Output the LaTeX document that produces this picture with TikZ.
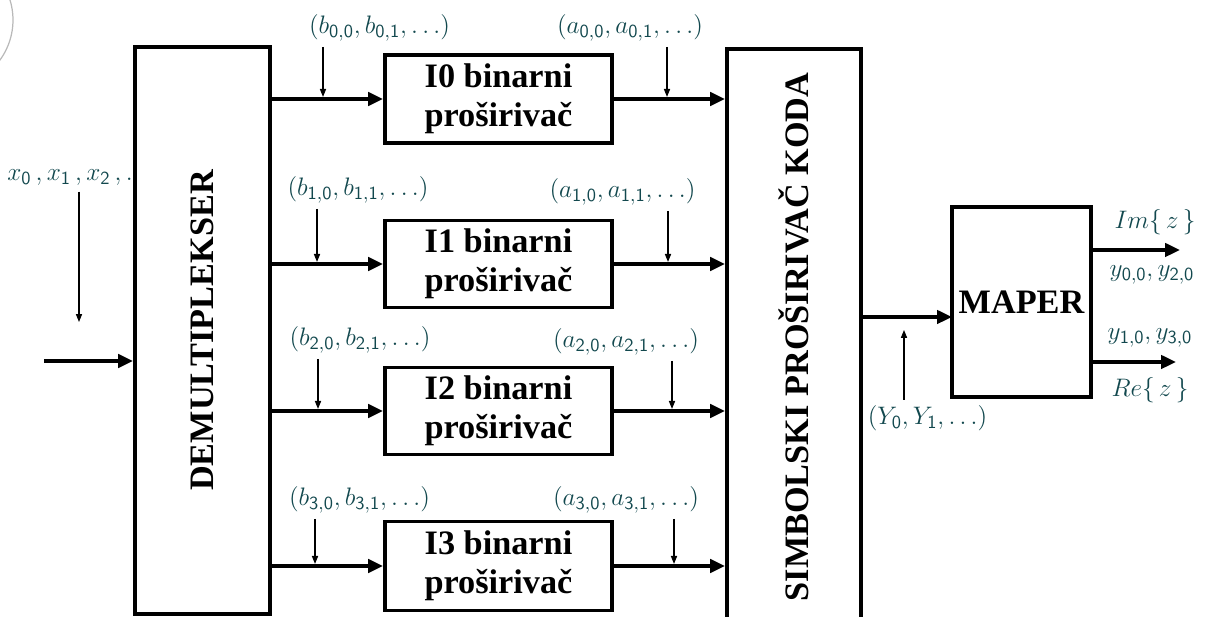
\documentclass[tikz,border=0pt]{standalone}
\usepackage{fontspec}
\setmainfont{Liberation Serif}
\usepackage{tikz}
\usetikzlibrary{arrows.meta,positioning,calc}
\definecolor{labteal}{RGB}{18,72,78}
\newcommand{\sx}[1]{\mathsf{#1}}

\begin{document}
\begin{tikzpicture}[
    x=0.02cm, y=-0.02cm,
    blk/.style={draw, line width=2.2pt, inner sep=0pt, align=center,
                font=\bfseries\fontsize{19.5}{22}\selectfont},
    lbl/.style={text=labteal, inner sep=1pt, font=\fontsize{15}{17}\selectfont},
    bus/.style={line width=2.2pt, -{Triangle[length=8.5pt,width=7.5pt]}},
    tap/.style={line width=0.6pt, shorten <=2pt, shorten >=1.2pt,
                -{Triangle[length=4.5pt,width=3.5pt]}}
]
\useasboundingbox (0,0) rectangle (1207,617);

% corner arc
\draw[gray!55, line width=0.7pt] (-55,20) circle[radius=1.36cm];

% Blocks
\node[blk, minimum width=2.7cm, minimum height=11.34cm] (demux) at (202.5,330.5) {\rotatebox{90}{DEMULTIPLEKSER}};
\node[blk, minimum width=4.54cm, minimum height=1.76cm] (i0) at (498.5,99) {I0 binarni\\proširivač};
\node[blk, minimum width=4.54cm, minimum height=1.74cm] (i1) at (498.5,264) {I1 binarni\\proširivač};
\node[blk, minimum width=4.54cm, minimum height=1.74cm] (i2) at (498.5,411) {I2 binarni\\proširivač};
\node[blk, minimum width=4.54cm, minimum height=1.78cm] (i3) at (498.5,566) {I3 binarni\\proširivač};
\node[blk, minimum width=2.68cm, minimum height=11.52cm] (simb) at (794,337) {\rotatebox{90}{SIMBOLSKI PROŠIRIVAČ KODA}};
\node[blk, minimum width=2.78cm, minimum height=3.8cm] (maper) at (1021.5,302) {MAPER};

% Input
\node[lbl] (xlab) at (70,178) {$x_{\sx{0}}\,,x_{\sx{1}}\,,x_{\sx{2}}\,,.$};
\coordinate (xin) at (44,361);
\coordinate (tx) at (79,322);
\draw[bus] (xin) -- (xin -| demux.west);
\draw[tap, shorten >=0pt] (xlab.south -| tx) -- (tx);

% Demux to branches
\draw[bus] (i0.west -| demux.east) -- (i0.west);
\draw[bus] (i1.west -| demux.east) -- (i1.west);
\draw[bus] (i2.west -| demux.east) -- (i2.west);
\draw[bus] (i3.west -| demux.east) -- (i3.west);

% Branches to symbol expander
\draw[bus] (i0.east) -- (i0.east -| simb.west);
\draw[bus] (i1.east) -- (i1.east -| simb.west);
\draw[bus] (i2.east) -- (i2.east -| simb.west);
\draw[bus] (i3.east) -- (i3.east -| simb.west);

% b sequences
\node[lbl] (lb0) at (379.5,28) {$(b_{\sx{0,0}},b_{\sx{0,1}},\ldots)$};
\node[lbl] (lb1) at (358,190) {$(b_{\sx{1,0}},b_{\sx{1,1}},\ldots)$};
\node[lbl] (lb2) at (360,340) {$(b_{\sx{2,0}},b_{\sx{2,1}},\ldots)$};
\node[lbl] (lb3) at (359.5,500) {$(b_{\sx{3,0}},b_{\sx{3,1}},\ldots)$};
\coordinate (tb0) at (323,99);
\coordinate (tb1) at (317,264);
\coordinate (tb2) at (318,411);
\coordinate (tb3) at (315,566);
\draw[tap] (lb0.south -| tb0) -- (tb0);
\draw[tap] (lb1.south -| tb1) -- (tb1);
\draw[tap] (lb2.south -| tb2) -- (tb2);
\draw[tap] (lb3.south -| tb3) -- (tb3);

% a sequences
\node[lbl] (la0) at (630,28) {$(a_{\sx{0,0}},a_{\sx{0,1}},\ldots)$};
\node[lbl] (la1) at (622.5,192) {$(a_{\sx{1,0}},a_{\sx{1,1}},\ldots)$};
\node[lbl] (la2) at (626,342) {$(a_{\sx{2,0}},a_{\sx{2,1}},\ldots)$};
\node[lbl] (la3) at (626,500) {$(a_{\sx{3,0}},a_{\sx{3,1}},\ldots)$};
\coordinate (ta0) at (667,99);
\coordinate (ta1) at (668,264);
\coordinate (ta2) at (672,411);
\coordinate (ta3) at (674,566);
\draw[tap] (la0.south -| ta0) -- (ta0);
\draw[tap] (la1.south -| ta1) -- (ta1);
\draw[tap] (la2.south -| ta2) -- (ta2);
\draw[tap] (la3.south -| ta3) -- (ta3);

% Symbols to mapper
\coordinate (mapin) at (952,317);
\draw[bus] (mapin -| simb.east) -- (mapin);
\node[lbl] (ylab) at (927.5,418) {$(Y_{\sx{0}},Y_{\sx{1}},\ldots)$};
\coordinate (tY) at (904,330);
\draw[tap, shorten >=0pt] (ylab.north -| tY) -- (tY);

% Outputs
\coordinate (imout) at (1180,250);
\coordinate (reout) at (1176,362);
\draw[bus] (imout -| maper.east) -- (imout);
\draw[bus] (reout -| maper.east) -- (reout);
\node[lbl] (imlab) at (1155,222) {$Im\{\,z\,\}$};
\node[lbl] (y02) at (1152,275) {$y_{\sx{0,0}},y_{\sx{2,0}}$};
\node[lbl] (y13) at (1150,338) {$y_{\sx{1,0}},y_{\sx{3,0}}$};
\node[lbl] (relab) at (1150,390) {$Re\{\,z\,\}$};
\end{tikzpicture}
\end{document}
